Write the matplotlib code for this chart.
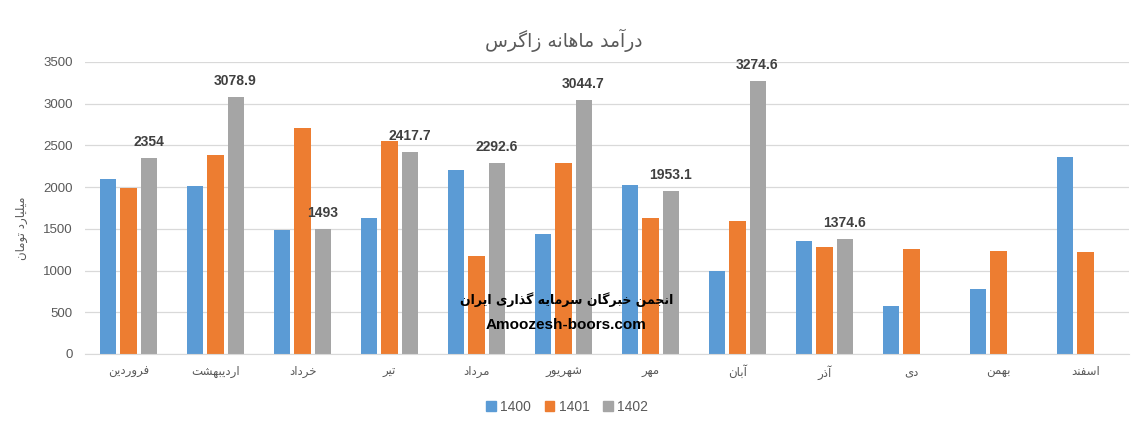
import numpy as np
import matplotlib; matplotlib.use("Agg")
import matplotlib.pyplot as plt
from matplotlib.patches import Patch

# ---------- data ----------
months = ["فروردین", "اردیبهشت", "خرداد", "تیر", "مرداد", "شهریور",
          "مهر", "آبان", "آذر", "دی", "بهمن", "اسفند"]
y1400 = [2100, 2015, 1485, 1630, 2205, 1440, 2030, 990, 1360, 575, 780, 2360]
y1401 = [1990, 2390, 2710, 2555, 1175, 2290, 1630, 1600, 1285, 1260, 1235, 1225]
y1402 = [2354, 3078.9, 1493, 2417.7, 2292.6, 3044.7, 1953.1, 3274.6, 1374.6]
series_names = ["1400", "1401", "1402"]
title = "درآمد ماهانه زاگرس"
ylabel = "میلیارد تومان"
wm1 = "انجمن خبرگان سرمایه گذاری ایران"
wm2 = "Amoozesh-boors.com"

# ---------- minimal persian shaping (matplotlib has no bidi/shaping) ----------
FORMS = {
    "ا": "\uFE8D\uFE8E", "آ": "\uFE81\uFE82", "د": "\uFEA9\uFEAA", "ذ": "\uFEAB\uFEAC",
    "ر": "\uFEAD\uFEAE", "ز": "\uFEAF\uFEB0", "ژ": "\uFB8A\uFB8B", "و": "\uFEED\uFEEE",
    "ب": "\uFE8F\uFE90\uFE91\uFE92", "پ": "\uFB56\uFB57\uFB58\uFB59",
    "ت": "\uFE95\uFE96\uFE97\uFE98", "ث": "\uFE99\uFE9A\uFE9B\uFE9C",
    "ج": "\uFE9D\uFE9E\uFE9F\uFEA0", "چ": "\uFB7A\uFB7B\uFB7C\uFB7D",
    "ح": "\uFEA1\uFEA2\uFEA3\uFEA4", "خ": "\uFEA5\uFEA6\uFEA7\uFEA8",
    "س": "\uFEB1\uFEB2\uFEB3\uFEB4", "ش": "\uFEB5\uFEB6\uFEB7\uFEB8",
    "ص": "\uFEB9\uFEBA\uFEBB\uFEBC", "ض": "\uFEBD\uFEBE\uFEBF\uFEC0",
    "ط": "\uFEC1\uFEC2\uFEC3\uFEC4", "ظ": "\uFEC5\uFEC6\uFEC7\uFEC8",
    "ع": "\uFEC9\uFECA\uFECB\uFECC", "غ": "\uFECD\uFECE\uFECF\uFED0",
    "ف": "\uFED1\uFED2\uFED3\uFED4", "ق": "\uFED5\uFED6\uFED7\uFED8",
    "ک": "\uFB8E\uFB8F\uFB90\uFB91", "گ": "\uFB92\uFB93\uFB94\uFB95",
    "ل": "\uFEDD\uFEDE\uFEDF\uFEE0", "م": "\uFEE1\uFEE2\uFEE3\uFEE4",
    "ن": "\uFEE5\uFEE6\uFEE7\uFEE8", "ه": "\uFEE9\uFEEA\uFEEB\uFEEC",
    "ی": "\uFBFC\uFBFD\uFBFE\uFBFF",
}
RJOIN = set("اآدذرزژو")

def fa(s):
    out = []
    for i, c in enumerate(s):
        if c not in FORMS:
            out.append(c); continue
        p = s[i-1] if i > 0 else None
        n = s[i+1] if i + 1 < len(s) else None
        jp = p in FORMS and p not in RJOIN
        jn = n in FORMS and c not in RJOIN
        f = FORMS[c]
        out.append(f[3] if jp and jn else f[1] if jp else f[2] if jn else f[0])
    return "".join(out)[::-1]

# ---------- plot ----------
colors = ["#5B9BD5", "#ED7D31", "#A5A5A5"]
grey = "#595959"
num_font = ["Liberation Sans", "DejaVu Sans"]

fig = plt.figure(figsize=(11.34, 4.30), dpi=100)
ax = fig.add_axes([85/1134, 76/430, 1044/1134, 292/430])

x = np.arange(len(months))
w = 0.184; step = 0.23
data = [y1400, y1401, y1402]
for k, (vals, c) in enumerate(zip(data, colors)):
    xs = x[:len(vals)] + (k - 1) * step
    bars = ax.bar(xs, vals, width=w, color=c, zorder=2)
    if k == 2:
        for b, v in zip(bars, vals):
            ax.annotate(f"{v:g}", (b.get_x() + b.get_width()/2, v), xytext=(0, 11.5),
                        textcoords="offset points", ha="center", va="center",
                        fontsize=10, fontweight="bold", color="#404040", family=num_font)

ax.set_xlim(-0.5, len(months) - 0.5)
ax.set_ylim(0, 3500)
ax.set_yticks(range(0, 3501, 500))
ax.set_yticklabels([str(v) for v in range(0, 3501, 500)], family=num_font, fontsize=9.5, color=grey)
ax.set_xticks(x)
ax.set_xticklabels([fa(m) for m in months], family="DejaVu Sans", fontsize=8.5, color=grey)
ax.tick_params(length=0, pad=8)
ax.tick_params(axis="y", pad=9)
ax.grid(axis="y", color="#d9d9d9", lw=0.9, zorder=0)
for s in ["top", "right", "left"]:
    ax.spines[s].set_visible(False)
ax.spines["bottom"].set_color("#d9d9d9")

fig.text(564/1134, 1 - 40/430, fa(title), ha="center", va="center",
         fontsize=13.5, color=grey, family="DejaVu Sans")
fig.text(22/1134, 1 - 228/430, fa(ylabel), ha="center", va="center", rotation=90,
         fontsize=8.5, color=grey, family="DejaVu Sans")

# watermark
fig.text(567/1134, 1 - 300/430, fa(wm1), ha="center", va="center",
         fontsize=9, fontweight="bold", color="black", family="DejaVu Sans", zorder=5)
fig.text(566/1134, 1 - 325/430, wm2, ha="center", va="center",
         fontsize=11, fontweight="bold", color="black", family=num_font, zorder=5)

handles = [Patch(color=c, label=n) for c, n in zip(colors, series_names)]
leg = fig.legend(handles=handles, loc="center", bbox_to_anchor=(567/1134, 23/430), ncol=3,
                 frameon=False, handlelength=0.7, handleheight=0.7, handletextpad=0.3,
                 columnspacing=1.0, prop={"family": num_font, "size": 10})
for t in leg.get_texts():
    t.set_color(grey)

fig.savefig("out.png", dpi=100)
